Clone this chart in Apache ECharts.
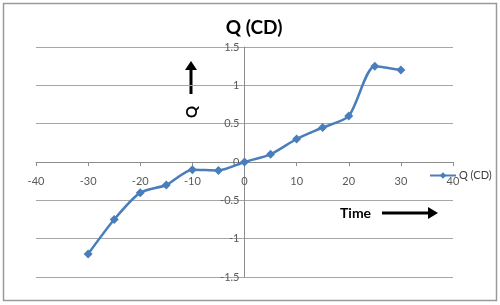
<!DOCTYPE html>
<html><head><meta charset="utf-8">
<script src="https://cdn.jsdelivr.net/npm/echarts@6/dist/echarts.min.js"></script>
<style>html,body{margin:0;padding:0;background:#fff}#c{width:500px;height:305px}</style>
</head><body><div id="c"></div>
<script>
const seriesName = 'Q (CD)';
const timeValues = [-30, -25, -20, -15, -10, -5, 0, 5, 10, 15, 20, 25, 30];
const qValues = [-1.2, -0.75, -0.4, -0.3, -0.1, -0.11, 0, 0.1, 0.3, 0.45, 0.6, 1.25, 1.2];
const xTicks = {min: -40, max: 40, interval: 10};
const yTicks = {min: -1.5, max: 1.5, interval: 0.5};

const W = 500, H = 305;
const grid = {left: 36, right: 47, top: 47, bottom: 28};
const gridW = W - grid.left - grid.right, gridH = H - grid.top - grid.bottom;
// axes cross at zero (Excel style): shift each axis inward to the other axis' zero
const xAxisOffset = -gridH * (0 - yTicks.min) / (yTicks.max - yTicks.min);
const yAxisOffset = -gridW * (0 - xTicks.min) / (xTicks.max - xTicks.min);

const chart = echarts.init(document.getElementById('c'), null, {renderer: 'canvas'});
const font = 'Lato, "Open Sans", sans-serif';
chart.setOption({
  animation: false,
  backgroundColor: '#fff',
  title: {text: seriesName, left: 249, textAlign: 'center', top: 13,
    textStyle: {fontFamily: font, fontSize: 19, fontWeight: 'bold', color: '#000'}},
  legend: {data: [seriesName], left: 424, top: 165, itemWidth: 26, itemHeight: 8, itemGap: 2,
    textStyle: {fontFamily: font, fontSize: 11, color: '#404040', padding: [0,0,0,-2]}},
  grid: grid,
  xAxis: {type: 'value', min: xTicks.min, max: xTicks.max, interval: xTicks.interval,
    position: 'bottom', offset: xAxisOffset,
    axisLine: {show: true, onZero: false, lineStyle: {color: '#8c8c8c', width: 1}},
    axisTick: {show: true, inside: false, length: 4, lineStyle: {color: '#8c8c8c'}},
    axisLabel: {margin: 14, fontFamily: font, fontSize: 11, color: '#595959'},
    splitLine: {show: false}},
  yAxis: {type: 'value', min: yTicks.min, max: yTicks.max, interval: yTicks.interval,
    position: 'left', offset: yAxisOffset,
    axisLine: {show: true, onZero: false, lineStyle: {color: '#8c8c8c', width: 1}},
    axisTick: {show: false},
    axisLabel: {margin: 5, fontFamily: font, fontSize: 11, color: '#595959'},
    splitLine: {show: true, lineStyle: {color: '#a6a6a6', width: 1}}},
  series: [{
    name: seriesName, type: 'line', smooth: 0.25,
    data: timeValues.map((t, i) => [t, qValues[i]]),
    symbol: 'diamond', symbolSize: 9,
    lineStyle: {color: '#4a7ebb', width: 2.5},
    itemStyle: {color: '#4a7ebb'}
  }],
  graphic: [
    {type: 'rect', shape: {x: 3.5, y: 3.5, width: 493, height: 297}, silent: true,
      style: {fill: 'none', stroke: '#9a9a9a', lineWidth: 1.5}},
    {type: 'text', x: 340, y: 213, style: {text: 'Time', font: 'bold 14px ' + font, fill: '#000', textVerticalAlign: 'middle'}},
    {type: 'line', shape: {x1: 382, y1: 213, x2: 430, y2: 213}, style: {stroke: '#000', lineWidth: 3}},
    {type: 'polygon', shape: {points: [[428, 207], [438, 213], [428, 219]]}, style: {fill: '#000'}},
    {type: 'line', shape: {x1: 191, y1: 94, x2: 191, y2: 68}, style: {stroke: '#000', lineWidth: 3}},
    {type: 'polygon', shape: {points: [[185, 70], [191, 61], [197, 70]]}, style: {fill: '#000'}},
    {type: 'text', x: 192, y: 112, rotation: Math.PI / 2,
      style: {text: 'Q', font: 'bold 15px ' + font, fill: '#000', textAlign: 'center', textVerticalAlign: 'middle'}}
  ]
});
</script></body></html>
